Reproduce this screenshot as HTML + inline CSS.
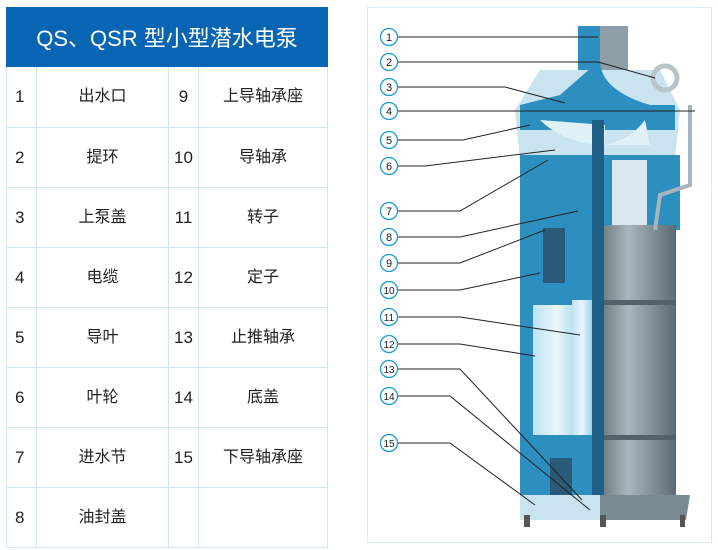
<!DOCTYPE html>
<html><head><meta charset="utf-8"><style>
body{margin:0;background:#fff;width:718px;height:550px;overflow:hidden;font-family:"Liberation Sans","Noto Sans CJK SC",sans-serif}
table{position:absolute;left:6px;top:7px;border-collapse:collapse;width:322px;table-layout:fixed}
td{border:1px solid #cfe6f3;font-size:16px;color:#222;text-align:center;padding:0;line-height:18px}
td.n{text-align:left;padding-left:8px;font-size:17px}
td.m{font-size:17px}
th{background:#0765b3;color:#fff;font-weight:normal;font-size:22px;border:1px solid #0765b3;padding:0}
tr{height:60px}
</style></head><body>
<table>
<colgroup><col style="width:30px"><col style="width:132px"><col style="width:30px"><col></colgroup>
<tr style="height:59px"><th colspan="4">QS、QSR 型小型潜水电泵</th></tr>
<tr style="height:61px"><td class="n">1</td><td>出水口</td><td class="m">9</td><td>上导轴承座</td></tr>
<tr><td class="n">2</td><td>提环</td><td class="m">10</td><td>导轴承</td></tr>
<tr><td class="n">3</td><td>上泵盖</td><td class="m">11</td><td>转子</td></tr>
<tr><td class="n">4</td><td>电缆</td><td class="m">12</td><td>定子</td></tr>
<tr><td class="n">5</td><td>导叶</td><td class="m">13</td><td>止推轴承</td></tr>
<tr><td class="n">6</td><td>叶轮</td><td class="m">14</td><td>底盖</td></tr>
<tr><td class="n">7</td><td>进水节</td><td class="m">15</td><td>下导轴承座</td></tr>
<tr><td class="n">8</td><td>油封盖</td><td class="m"></td><td></td></tr>
</table>
<svg width="718" height="550" style="position:absolute;left:0;top:0">
<defs>
<linearGradient id="g" x1="0" x2="1"><stop offset="0" stop-color="#5d6e78"/><stop offset=".4" stop-color="#a9b6bd"/><stop offset="1" stop-color="#5b6a73"/></linearGradient>
<linearGradient id="b" x1="0" x2="1"><stop offset="0" stop-color="#bfe2f2"/><stop offset=".5" stop-color="#eaf7fd"/><stop offset="1" stop-color="#9fd3ea"/></linearGradient>
</defs>
<rect x="367.5" y="7.5" width="344" height="535" fill="none" stroke="#d6ebf5"/>
<rect x="578" y="26" width="50" height="45" fill="#8e9ea8"/>
<rect x="578" y="26" width="22" height="50" fill="#2d8fbf"/>
<path d="M540 70 L660 70 L680 110 L675 160 L520 160 L515 110 Z" fill="#c9e4ef"/>
<path d="M560 95 Q600 60 600 60 Q600 90 650 105 L675 105 L675 130 L520 130 L520 105Z" fill="#2d8fbf"/>
<circle cx="665" cy="78" r="12" fill="none" stroke="#b8c4ca" stroke-width="5"/>
<path d="M520 155 L680 155 L680 230 L520 230 Z" fill="#2d8fbf"/>
<rect x="612" y="160" width="35" height="65" fill="#d9e8ee"/>
<path d="M540 120 Q560 140 595 145 L605 145 L605 125 Z" fill="#dff0f7"/>
<path d="M645 120 Q630 140 605 145 L650 145 Z" fill="#dff0f7"/>
<rect x="596" y="225" width="80" height="275" fill="url(#g)"/>
<rect x="596" y="300" width="80" height="5" fill="#52616a"/>
<rect x="596" y="435" width="80" height="5" fill="#52616a"/>
<rect x="520" y="225" width="78" height="275" fill="#2d8fbf"/>
<rect x="533" y="305" width="48" height="130" fill="url(#b)"/>
<rect x="572" y="300" width="20" height="135" fill="url(#b)"/>
<rect x="543" y="228" width="22" height="55" fill="#2a5a78"/>
<rect x="550" y="458" width="22" height="40" fill="#2a5a78"/>
<rect x="592" y="120" width="12" height="385" fill="#1e5f86"/>
<path d="M593 495 L690 495 L686 520 L596 520 Z" fill="#7a8a93"/>
<rect x="520" y="495" width="80" height="25" fill="#c9e4ef"/>
<rect x="524" y="515" width="6" height="12" fill="#555"/><rect x="600" y="515" width="6" height="12" fill="#555"/><rect x="680" y="515" width="5" height="12" fill="#555"/>
<path d="M690 105 L690 185 L660 195 L655 230" fill="none" stroke="#a8b5bb" stroke-width="4"/>
<g fill="none" stroke="#222" stroke-width="1">
<path d="M397 37H598"/><path d="M397 62H598L655 78"/><path d="M397 87H505L565 103"/>
<path d="M397 111H695"/><path d="M397 140H463L530 125"/><path d="M397 166H425L555 150"/>
<path d="M397 211H460L548 160"/><path d="M397 237H460L578 211"/><path d="M397 263H460L545 230"/>
<path d="M397 290H460L540 273"/><path d="M397 317H460L580 335"/><path d="M397 344H460L535 356"/>
<path d="M397 369H460L582 500"/><path d="M397 396H450L590 510"/><path d="M397 443H450L535 505"/>
</g>
<g fill="#fff" stroke="#1a9bd7" stroke-width="1.3">
<circle cx="389" cy="37" r="8.5"/><circle cx="389" cy="62" r="8.5"/><circle cx="389" cy="87" r="8.5"/><circle cx="389" cy="111" r="8.5"/><circle cx="389" cy="140" r="8.5"/><circle cx="389" cy="166" r="8.5"/><circle cx="389" cy="211" r="8.5"/><circle cx="389" cy="237" r="8.5"/><circle cx="389" cy="263" r="8.5"/><circle cx="389" cy="290" r="8.5"/><circle cx="389" cy="317" r="8.5"/><circle cx="389" cy="344" r="8.5"/><circle cx="389" cy="369" r="8.5"/><circle cx="389" cy="396" r="8.5"/><circle cx="389" cy="443" r="8.5"/>
</g>
<g font-family="Liberation Sans" font-size="11" text-anchor="middle" fill="#222">
<text x="389" y="41">1</text><text x="389" y="66">2</text><text x="389" y="91">3</text><text x="389" y="115">4</text><text x="389" y="144">5</text><text x="389" y="170">6</text><text x="389" y="215">7</text><text x="389" y="241">8</text><text x="389" y="267">9</text><text x="389" y="294" font-size="10">10</text><text x="389" y="321" font-size="10">11</text><text x="389" y="348" font-size="10">12</text><text x="389" y="373" font-size="10">13</text><text x="389" y="400" font-size="10">14</text><text x="389" y="447" font-size="10">15</text>
</g>
</svg>
</body></html>
